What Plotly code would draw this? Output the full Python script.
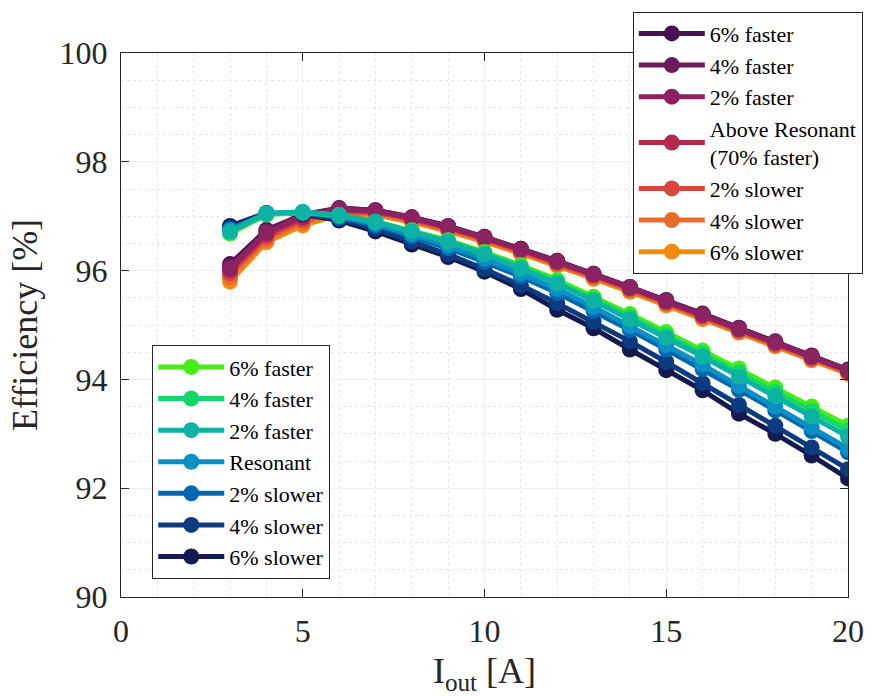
import plotly.graph_objects as go

# Output current [A]
i_out = [3, 4, 5, 6, 7, 8, 9, 10, 11, 12, 13, 14, 15, 16, 17, 18, 19, 20]

# Efficiency [%] - above-resonant operation family
above_6_faster = [96.12, 96.75, 97.03, 97.15, 97.11, 96.98, 96.82, 96.62, 96.40, 96.18, 95.94, 95.70, 95.46, 95.21, 94.95, 94.70, 94.44, 94.18]
above_4_faster = [96.08, 96.73, 97.02, 97.14, 97.11, 96.98, 96.81, 96.62, 96.40, 96.18, 95.94, 95.70, 95.45, 95.20, 94.94, 94.69, 94.43, 94.17]
above_2_faster = [96.04, 96.70, 97.00, 97.13, 97.10, 96.97, 96.80, 96.61, 96.39, 96.17, 95.93, 95.69, 95.44, 95.19, 94.93, 94.68, 94.42, 94.16]
above_resonant = [96.00, 96.66, 96.97, 97.11, 97.09, 96.96, 96.79, 96.60, 96.38, 96.16, 95.92, 95.68, 95.43, 95.18, 94.92, 94.67, 94.41, 94.15]
above_2_slower = [95.95, 96.62, 96.93, 97.09, 97.07, 96.94, 96.77, 96.58, 96.36, 96.14, 95.90, 95.66, 95.41, 95.16, 94.90, 94.65, 94.39, 94.14]
above_4_slower = [95.88, 96.57, 96.88, 97.06, 97.05, 96.92, 96.75, 96.56, 96.34, 96.12, 95.88, 95.64, 95.39, 95.14, 94.88, 94.63, 94.37, 94.12]
above_6_slower = [95.80, 96.52, 96.83, 97.02, 97.02, 96.89, 96.72, 96.53, 96.31, 96.09, 95.85, 95.61, 95.36, 95.11, 94.86, 94.61, 94.35, 94.10]

# Efficiency [%] - resonant operation family
res_6_faster = [96.68, 97.03, 97.07, 97.02, 96.90, 96.74, 96.56, 96.34, 96.10, 95.83, 95.52, 95.20, 94.87, 94.53, 94.20, 93.85, 93.50, 93.15]
res_4_faster = [96.70, 97.04, 97.07, 97.02, 96.90, 96.73, 96.54, 96.32, 96.07, 95.79, 95.48, 95.15, 94.81, 94.47, 94.13, 93.77, 93.42, 93.06]
res_2_faster = [96.72, 97.05, 97.08, 97.02, 96.90, 96.72, 96.53, 96.30, 96.04, 95.76, 95.44, 95.10, 94.76, 94.42, 94.05, 93.69, 93.32, 92.95]
res_resonant = [96.74, 97.05, 97.07, 97.00, 96.86, 96.67, 96.46, 96.22, 95.95, 95.66, 95.33, 94.98, 94.63, 94.27, 93.88, 93.50, 93.12, 92.73]
res_2_slower = [96.76, 97.05, 97.06, 96.98, 96.83, 96.63, 96.41, 96.16, 95.89, 95.59, 95.26, 94.91, 94.55, 94.19, 93.81, 93.43, 93.05, 92.66]
res_4_slower = [96.79, 97.05, 97.05, 96.95, 96.77, 96.54, 96.30, 96.03, 95.73, 95.40, 95.06, 94.70, 94.32, 93.93, 93.53, 93.15, 92.75, 92.35]
res_6_slower = [96.82, 97.06, 97.04, 96.92, 96.72, 96.48, 96.25, 95.98, 95.66, 95.28, 94.94, 94.55, 94.17, 93.80, 93.37, 93.00, 92.60, 92.18]

x_ticks = [0, 5, 10, 15, 20]
y_ticks = [90, 92, 94, 96, 98, 100]

FONT = "Liberation Serif, Times New Roman, serif"
INK = "#262626"

# (name, values, colour, legend rank) in drawing order
above_family = [
    ("6% slower", above_6_slower, "#f28d0c", 7),
    ("4% slower", above_4_slower, "#eb6a2d", 6),
    ("2% slower", above_2_slower, "#d8473f", 5),
    ("Above Resonant<br>(70% faster)", above_resonant, "#b5294f", 4),
    ("6% faster", above_6_faster, "#461352", 1),
    ("4% faster", above_4_faster, "#6b1a5b", 2),
    ("2% faster", above_2_faster, "#8c2262", 3),
]
res_family = [
    ("6% slower", res_6_slower, "#141a50", 7),
    ("4% slower", res_4_slower, "#0c3b80", 6),
    ("2% slower", res_2_slower, "#0467b0", 5),
    ("Resonant", res_resonant, "#0a90c4", 4),
    ("6% faster", res_6_faster, "#44ee14", 1),
    ("4% faster", res_4_faster, "#12d86c", 2),
    ("2% faster", res_2_faster, "#0cb3a4", 3),
]

fig = go.Figure()
for group, legend_id in ((above_family, "legend"), (res_family, "legend2")):
    for name, vals, col, rank in group:
        fig.add_trace(go.Scatter(
            x=i_out, y=vals, name=name, mode="lines+markers",
            line=dict(color=col, width=5),
            marker=dict(color=col, size=16, symbol="circle"),
            legend=legend_id, legendrank=rank,
        ))

axis_common = dict(
    showline=True, linecolor=INK, linewidth=1, mirror="ticks",
    ticks="inside", ticklen=8, tickwidth=1, tickcolor=INK,
    tickfont=dict(family=FONT, size=32, color=INK),
    showgrid=True, gridcolor="#efefef", gridwidth=1,
    zeroline=False,
)

fig.update_xaxes(
    range=[0, 20], tickvals=x_ticks, ticklabelstandoff=6,
    minor=dict(dtick=1, showgrid=True, gridcolor="#e6e6e6", griddash="dot", ticks=""),
    title=dict(text="I<sub>out</sub> [A]", font=dict(family=FONT, size=36, color=INK), standoff=10),
    **axis_common,
)
fig.update_yaxes(
    range=[90, 100], tickvals=y_ticks, ticklabelstandoff=6,
    minor=dict(dtick=0.5, showgrid=True, gridcolor="#e6e6e6", griddash="dot", ticks=""),
    title=dict(text="Efficiency [%]", font=dict(family=FONT, size=36, color=INK), standoff=10),
    **axis_common,
)

legend_common = dict(
    bgcolor="white", bordercolor=INK, borderwidth=1,
    font=dict(family=FONT, size=22, color="black"),
    itemwidth=66, tracegroupgap=0, traceorder="normal",
    xanchor="left", yanchor="top",
)

fig.update_layout(
    width=893, height=696,
    margin=dict(l=121, r=45, t=46, b=99),
    paper_bgcolor="white", plot_bgcolor="white",
    showlegend=True,
    legend=dict(x=0.704, y=1.076, **legend_common),
    legend2=dict(x=0.043, y=0.463, **legend_common),
)

fig.write_html("out.html")
